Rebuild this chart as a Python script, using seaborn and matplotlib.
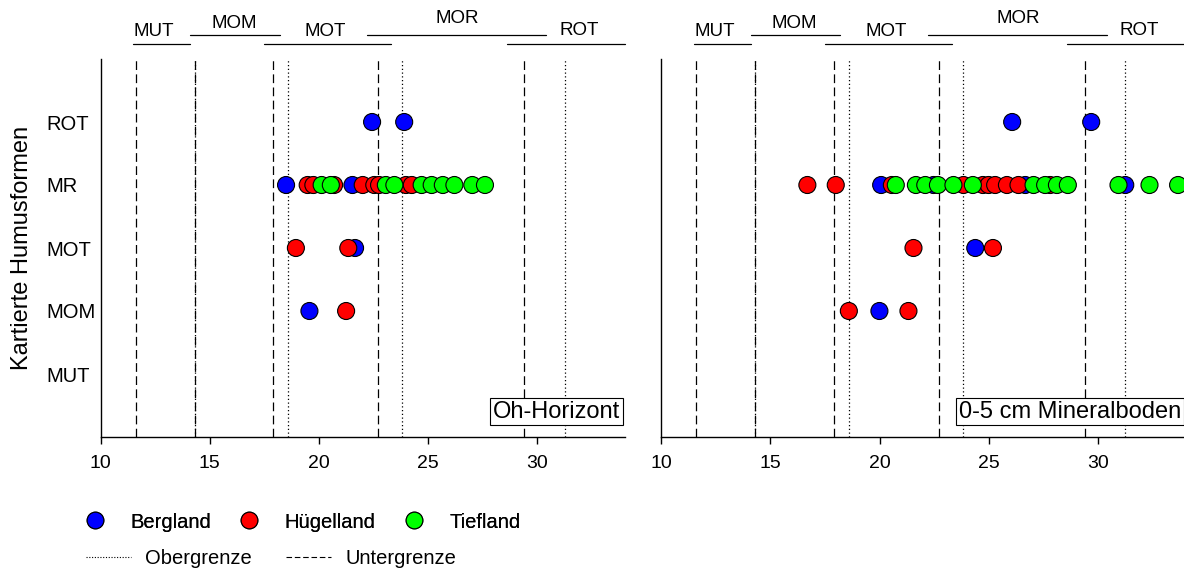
import pandas as pd
import matplotlib
matplotlib.use("Agg")
import matplotlib.pyplot as plt
from matplotlib.lines import Line2D
import seaborn as sns

# ===============================
# Stil
# ===============================
sns.set_style("ticks")
plt.rcParams['font.family'] = ['Liberation Sans', 'DejaVu Sans']
plt.rcParams['text.color'] = 'black'
plt.rcParams['axes.labelcolor'] = 'black'
plt.rcParams['xtick.color'] = 'black'
plt.rcParams['ytick.color'] = 'black'

# ===============================
# Daten
# ===============================
humusformen = ["MUT", "MOM", "MOT", "MR", "ROT"]
regionen = ["Bergland", "Hügelland", "Tiefland"]
farben = ["#0000ff", "#ff0000", "#00ff00"]

# Oh-Horizont
oh_berg_x = [22.43, 23.9, 18.49, 21.53, 21.65, 19.56]
oh_berg_y = ["ROT", "ROT", "MR", "MR", "MOT", "MOM"]
oh_hueg_x = [19.48, 19.74, 20.69, 22.0, 22.53, 22.75, 23.98, 24.25, 18.94, 21.34, 21.24]
oh_hueg_y = ["MR"] * 8 + ["MOT", "MOT", "MOM"]
oh_tief_x = [20.12, 20.54, 23.06, 23.45, 24.7, 25.16, 25.67, 26.2, 27.02, 27.6]
oh_tief_y = ["MR"] * 10

# 0-5 cm Mineralboden
mb_berg_x = [26.07, 29.69, 20.07, 22.47, 26.67, 31.25, 24.38, 19.99]
mb_berg_y = ["ROT", "ROT", "MR", "MR", "MR", "MR", "MOT", "MOM"]
mb_hueg_x = [16.69, 17.99, 20.56, 23.84, 24.73, 24.99, 25.29, 25.83, 26.36, 27.81,
             21.55, 25.19, 18.59, 21.32]
mb_hueg_y = ["MR"] * 10 + ["MOT", "MOT", "MOM", "MOM"]
mb_tief_x = [20.74, 21.66, 22.09, 22.67, 23.38, 24.27, 27.05, 27.58, 28.12, 28.62,
             30.94, 32.36, 33.67]
mb_tief_y = ["MR"] * 13

# Klassengrenzen
klassen = ["MUT", "MOM", "MOT", "MOR", "ROT"]
untergrenze = [11.6, 14.3, 17.9, 22.7, 29.4]
obergrenze = [14.3, 18.6, 23.8, 31.25]
kopf_von = [11.5, 14.1, 17.5, 22.2, 28.6]
kopf_bis = [14.1, 18.2, 23.3, 30.4, 34.0]


def tabelle(bx, by, hx, hy, tx, ty):
    teile = []
    for reg, xs, ys in zip(regionen, [bx, hx, tx], [by, hy, ty]):
        teile.append(pd.DataFrame({"wert": xs, "form": ys, "region": reg}))
    df = pd.concat(teile, ignore_index=True)
    df["pos"] = df["form"].map({f: i + 1 for i, f in enumerate(humusformen)})
    return df


oh_df = tabelle(oh_berg_x, oh_berg_y, oh_hueg_x, oh_hueg_y, oh_tief_x, oh_tief_y)
mb_df = tabelle(mb_berg_x, mb_berg_y, mb_hueg_x, mb_hueg_y, mb_tief_x, mb_tief_y)

# ===============================
# Abbildung
# ===============================
W, H = 1184, 574
fig = plt.figure(figsize=(W / 100, H / 100), dpi=100)
ax1 = fig.add_axes([100.7 / W, 1 - 437 / H, 524 / W, 378 / H])
ax2 = fig.add_axes([661.3 / W, 1 - 437 / H, 524 / W, 378 / H])

kopf_text_x = [12.45, 16.1, 20.3, 26.35, 31.9]
kopf_text_dy = [0.2, 0.19, 0.19, 0.26, 0.21]

for ax, df, titel in [(ax1, oh_df, "Oh-Horizont"), (ax2, mb_df, "0-5 cm Mineralboden")]:
    for g in untergrenze:
        ax.axvline(g, color="black", lw=0.9, ls=(0, (7, 3.5)), zorder=1)
    for g in obergrenze:
        ax.axvline(g, color="black", lw=0.9, ls=(0, (1, 2)), zorder=1)

    sns.scatterplot(data=df, x="wert", y="pos", hue="region", hue_order=regionen,
                    palette=farben, s=150, edgecolor="black", linewidth=0.8,
                    legend=False, ax=ax, zorder=3)

    ax.set_xlim(10, 34)
    ax.set_ylim(0, 6)
    ax.set_xticks([10, 15, 20, 25, 30])
    ax.set_yticks(range(1, 6))
    ax.set_xlabel("")
    ax.set_ylabel("")
    ax.tick_params(axis="x", direction="out", length=5, width=1, labelsize=14, pad=8)
    ax.tick_params(axis="y", length=0)
    for s in ["top", "right"]:
        ax.spines[s].set_visible(False)
    for s in ["left", "bottom"]:
        ax.spines[s].set_color("black")
        ax.spines[s].set_linewidth(1)

    # Klassenbalken oben
    for i, k in enumerate(klassen):
        yl = 6.38 if i % 2 else 6.24
        ax.plot([kopf_von[i], kopf_bis[i]], [yl, yl], color="black", lw=0.9, clip_on=False)
        ax.text(kopf_text_x[i], yl + kopf_text_dy[i], k, ha="center", va="center",
                fontsize=13.5, clip_on=False)

    ax.text(0.992, 0.038, titel, transform=ax.transAxes, ha="right", va="bottom",
            fontsize=17, zorder=5,
            bbox=dict(boxstyle="square,pad=0.12", fc="white", ec="black", lw=0.8))

ax1.set_yticklabels(humusformen, fontsize=14.5, ha="left")
ax1.tick_params(axis="y", pad=39)
ax2.set_yticklabels([])
ax1.set_ylabel("Kartierte Humusformen", fontsize=17)
ax1.yaxis.set_label_coords(-0.13, 0.5)

# Legende
h1 = [Line2D([], [], marker="o", ls="", ms=12, mfc=c, mec="black", mew=0.8) for c in farben]
leg1 = fig.legend(h1, regionen, loc="center left", bbox_to_anchor=(75 / W, 1 - 522 / H),
                  ncol=3, frameon=False, fontsize=14.5, handlelength=2, handletextpad=0.75,
                  columnspacing=0.9, borderpad=0, borderaxespad=0)
h2 = [Line2D([], [], color="black", ls=(0, (1, 1.5)), lw=0.8),
      Line2D([], [], color="black", ls=(0, (5, 2.5)), lw=0.8)]
leg2 = fig.legend(h2, ["Obergrenze", "Untergrenze"], loc="center left",
                  bbox_to_anchor=(86 / W, 1 - 559 / H), ncol=2, frameon=False, fontsize=14.5,
                  handlelength=2.24, handletextpad=0.7, columnspacing=1.7,
                  borderpad=0, borderaxespad=0)
fig.add_artist(leg1)

plt.savefig("out.png", dpi=100)
plt.close()
